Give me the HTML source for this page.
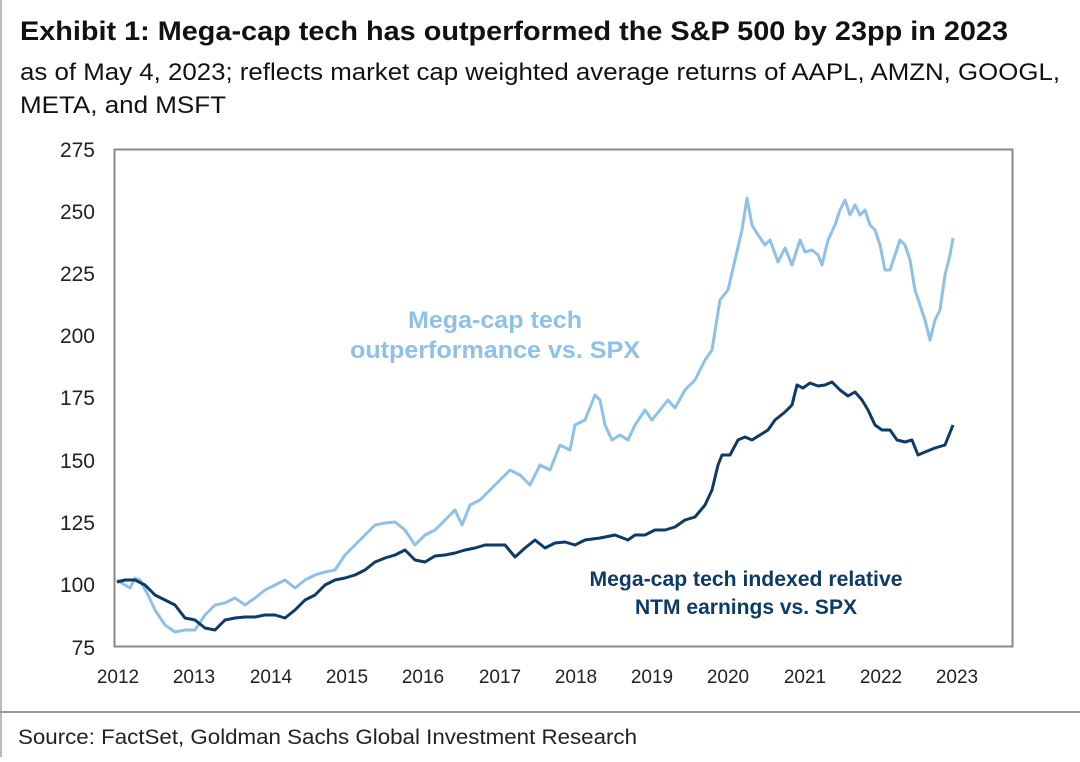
<!DOCTYPE html>
<html><head><style>
body{margin:0;background:#fff;width:1080px;height:757px;overflow:hidden;font-family:"Liberation Sans",Arial,sans-serif;}
</style></head><body>
<svg width="1080" height="757" xmlns="http://www.w3.org/2000/svg" font-family="Liberation Sans, Arial, sans-serif">
<line x1="1" y1="0" x2="1" y2="757" stroke="#bbb" stroke-width="2"/>
<text x="20" y="40" font-size="27" font-weight="bold" fill="#111" textLength="988" lengthAdjust="spacingAndGlyphs">Exhibit 1: Mega-cap tech has outperformed the S&amp;P 500 by 23pp in 2023</text>
<text x="20" y="80" font-size="24" fill="#111" textLength="1040" lengthAdjust="spacingAndGlyphs">as of May 4, 2023; reflects market cap weighted average returns of AAPL, AMZN, GOOGL,</text>
<text x="20" y="113" font-size="24" fill="#111" textLength="206" lengthAdjust="spacingAndGlyphs">META, and MSFT</text>
<rect x="114.5" y="149.5" width="898" height="497" fill="none" stroke="#888" stroke-width="2"/>
<g font-size="21" fill="#222" text-anchor="end">
<text x="95" y="157">275</text><text x="95" y="219">250</text><text x="95" y="281">225</text><text x="95" y="343">200</text><text x="95" y="405">175</text><text x="95" y="468">150</text><text x="95" y="530">125</text><text x="95" y="592">100</text><text x="95" y="655">75</text>
</g>
<g font-size="19" fill="#222" text-anchor="middle">
<text x="118" y="683">2012</text><text x="194" y="683">2013</text><text x="271" y="683">2014</text><text x="347" y="683">2015</text><text x="423" y="683">2016</text><text x="500" y="683">2017</text><text x="576" y="683">2018</text><text x="652" y="683">2019</text><text x="728" y="683">2020</text><text x="805" y="683">2021</text><text x="881" y="683">2022</text><text x="957" y="683">2023</text>
</g>
<polyline fill="none" stroke="#8fc1e8" stroke-width="3" stroke-linejoin="round" points="117,580 125,585 130,588 135,578 140,580 148,595 155,610 165,625 175,632 185,630 195,630 205,615 215,605 225,603 235,598 245,605 255,598 265,590 275,585 285,580 295,588 305,580 315,575 325,572 335,570 345,555 355,545 365,535 375,525 385,523 395,522 405,530 415,545 425,535 435,530 445,520 455,510 462,525 470,505 480,500 490,490 500,480 510,470 520,475 530,485 540,465 550,470 560,445 570,450 575,425 585,420 595,395 600,400 605,425 612,440 620,435 628,440 635,425 645,410 652,420 660,410 668,400 675,408 685,390 695,380 705,360 712,350 720,300 728,290 735,260 742,230 747,198 752,225 758,235 765,245 770,240 778,262 785,248 792,265 800,240 805,252 812,250 818,255 822,265 828,240 835,225 840,210 845,200 850,215 855,205 860,215 865,210 870,225 875,230 880,245 885,270 890,270 895,255 900,240 905,245 910,260 915,290 920,305 925,320 930,340 935,320 940,310 945,275 950,255 953,238"/>
<polyline fill="none" stroke="#0e3a66" stroke-width="3" stroke-linejoin="round" points="117,582 125,580 135,580 145,585 155,595 165,600 175,605 185,618 195,620 205,628 215,630 225,620 235,618 245,617 255,617 265,615 275,615 285,618 295,610 305,600 315,595 325,585 335,580 345,578 355,575 365,570 375,562 385,558 395,555 405,550 415,560 425,562 435,556 445,555 455,553 465,550 475,548 485,545 495,545 505,545 515,557 525,548 535,540 545,548 555,543 565,542 575,545 585,540 600,538 615,535 628,540 635,535 645,535 655,530 665,530 675,527 685,520 695,517 705,505 712,490 718,465 722,455 730,455 738,440 745,437 752,440 760,435 768,430 775,420 785,412 792,405 797,385 803,388 810,383 818,386 825,385 832,382 840,390 848,396 855,392 862,400 868,410 875,425 882,430 890,430 897,440 905,442 912,440 918,455 925,452 935,448 945,445 953,425"/>
<g font-size="24" font-weight="bold" fill="#8fc1e8" text-anchor="middle">
<text x="495" y="328" textLength="174" lengthAdjust="spacingAndGlyphs">Mega-cap tech</text><text x="495" y="358" textLength="290" lengthAdjust="spacingAndGlyphs">outperformance vs. SPX</text>
</g>
<g font-size="21" font-weight="bold" fill="#0e3a66" text-anchor="middle">
<text x="746" y="586" textLength="313" lengthAdjust="spacingAndGlyphs">Mega-cap tech indexed relative</text><text x="746" y="614" textLength="222" lengthAdjust="spacingAndGlyphs">NTM earnings vs. SPX</text>
</g>
<line x1="0" y1="712" x2="1080" y2="712" stroke="#999" stroke-width="2"/>
<text x="18" y="744" font-size="21" fill="#222" textLength="619" lengthAdjust="spacingAndGlyphs">Source: FactSet, Goldman Sachs Global Investment Research</text>
</svg>
</body></html>
